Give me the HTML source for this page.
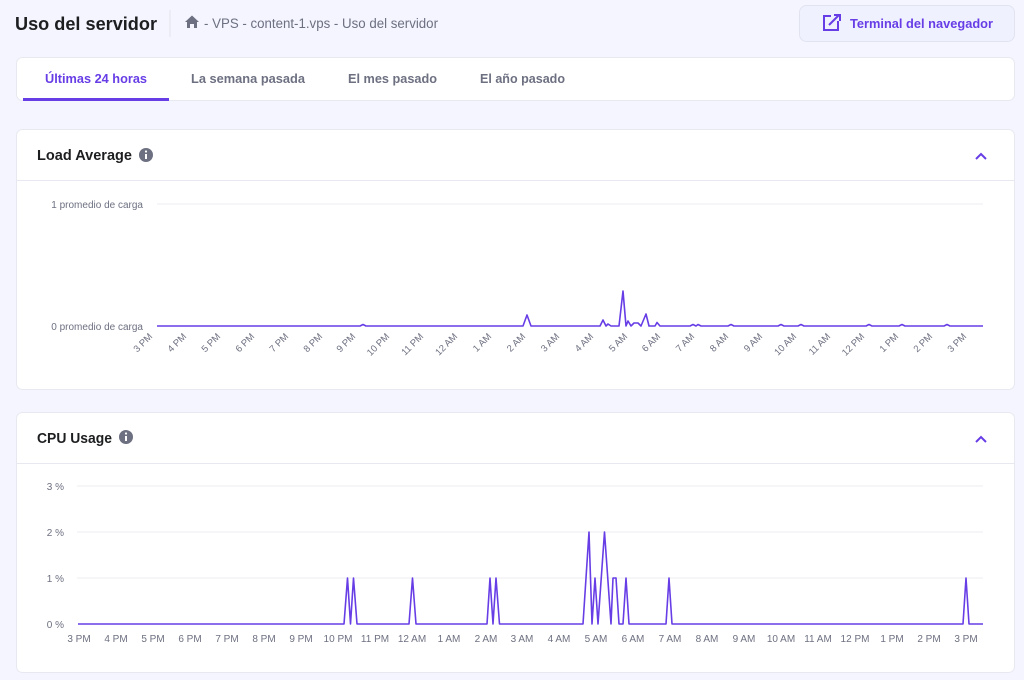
<!DOCTYPE html>
<html><head><meta charset="utf-8"><style>
body{margin:0;background:#f4f5ff;font-family:"Liberation Sans",sans-serif;}
svg{display:block}
</style></head><body>
<svg width="1024" height="680" viewBox="0 0 1024 680" xmlns="http://www.w3.org/2000/svg" font-family="Liberation Sans, sans-serif">
<rect width="1024" height="680" fill="#f4f5ff"/>
<text x="15" y="30" font-size="18" font-weight="bold" fill="#1d1e20" textLength="142" lengthAdjust="spacingAndGlyphs">Uso del servidor</text>
<line x1="170" y1="10" x2="170" y2="37" stroke="#e3e4ea"/>
<path d="M185 22 L192 15.5 L199 22 L197 22 L197 28 L194 28 L194 24 L190 24 L190 28 L187 28 L187 22 Z" fill="#6d7081"/>
<text x="204" y="28" font-size="13.5" fill="#6d7081" textLength="234" lengthAdjust="spacingAndGlyphs">- VPS - content-1.vps - Uso del servidor</text>
<rect x="799.5" y="5.5" width="215" height="36" rx="7" fill="#f0f1ff" stroke="#e1e3ef"/>
<rect x="824" y="16" width="14" height="14" fill="none" stroke="#673de6" stroke-width="2"/>
<rect x="831" y="13" width="9" height="8" fill="#f0f1ff"/>
<path d="M829 25 L839 15 M834 15 L840 15 L840 21" stroke="#673de6" stroke-width="2" fill="none"/>
<text x="850" y="28" font-size="13" font-weight="bold" fill="#673de6" textLength="143" lengthAdjust="spacingAndGlyphs">Terminal del navegador</text>

<rect x="16.5" y="57.5" width="998" height="43" rx="6" fill="#fff" stroke="#e8e9f0"/>
<text x="45" y="83" font-size="13" font-weight="bold" fill="#673de6" textLength="102" lengthAdjust="spacingAndGlyphs">Últimas 24 horas</text>
<rect x="23" y="98" width="146" height="3" fill="#673de6"/>
<text x="191" y="83" font-size="13" font-weight="bold" fill="#6d7081" textLength="114" lengthAdjust="spacingAndGlyphs">La semana pasada</text>
<text x="348" y="83" font-size="13" font-weight="bold" fill="#6d7081" textLength="89" lengthAdjust="spacingAndGlyphs">El mes pasado</text>
<text x="480" y="83" font-size="13" font-weight="bold" fill="#6d7081" textLength="85" lengthAdjust="spacingAndGlyphs">El año pasado</text>

<rect x="16.5" y="129.5" width="998" height="260" rx="6" fill="#fff" stroke="#e8e9f0"/>
<text x="37" y="160" font-size="14.5" font-weight="bold" fill="#1d1e20" textLength="95" lengthAdjust="spacingAndGlyphs">Load Average</text>
<circle cx="146" cy="155" r="7" fill="#6d7081"/><rect x="145" y="154" width="2" height="5" fill="#fff"/><circle cx="146" cy="151.5" r="1.1" fill="#fff"/>
<path d="M976 159 L981 154 L986 159" stroke="#673de6" stroke-width="2" fill="none"/>
<line x1="16" y1="180.5" x2="1015" y2="180.5" stroke="#e8e9f0"/>
<line x1="157" y1="204" x2="983" y2="204" stroke="#ececf0"/>
<text x="143" y="208" font-size="10" fill="#6d7081" text-anchor="end">1 promedio de carga</text>
<text x="143" y="330" font-size="10" fill="#6d7081" text-anchor="end">0 promedio de carga</text>
<path d="M157 326 L360 326 L363 324.5 L366 326 L523 326 L527 315 L531 326 L600 326 L603 320 L606 326 L608 324 L611 326 L619 326 L623 291 L626 326 L628 321 L631 326 L634 323 L638 323 L641 326 L646 314 L649 326 L655 326 L657 322.5 L660 326 L690 326 L693 324.5 L696 326 L698 324.5 L701 326 L728 326 L731 324.5 L734 326 L778 326 L781 324.5 L784 326 L798 326 L801 324.5 L804 326 L866 326 L869 324.5 L872 326 L899 326 L902 324.5 L905 326 L944 326 L947 324.5 L950 326 L983 326" fill="none" stroke="#673de6" stroke-width="1.6" stroke-linejoin="round"/>
<g font-size="9.5" fill="#6d7081" text-anchor="end">
<text transform="translate(153,337) rotate(-45)">3 PM</text>
<text transform="translate(187,337) rotate(-45)">4 PM</text>
<text transform="translate(221,337) rotate(-45)">5 PM</text>
<text transform="translate(255,337) rotate(-45)">6 PM</text>
<text transform="translate(289,337) rotate(-45)">7 PM</text>
<text transform="translate(323,337) rotate(-45)">8 PM</text>
<text transform="translate(356,337) rotate(-45)">9 PM</text>
<text transform="translate(390,337) rotate(-45)">10 PM</text>
<text transform="translate(424,337) rotate(-45)">11 PM</text>
<text transform="translate(458,337) rotate(-45)">12 AM</text>
<text transform="translate(492,337) rotate(-45)">1 AM</text>
<text transform="translate(526,337) rotate(-45)">2 AM</text>
<text transform="translate(560,337) rotate(-45)">3 AM</text>
<text transform="translate(594,337) rotate(-45)">4 AM</text>
<text transform="translate(628,337) rotate(-45)">5 AM</text>
<text transform="translate(661,337) rotate(-45)">6 AM</text>
<text transform="translate(695,337) rotate(-45)">7 AM</text>
<text transform="translate(729,337) rotate(-45)">8 AM</text>
<text transform="translate(763,337) rotate(-45)">9 AM</text>
<text transform="translate(797,337) rotate(-45)">10 AM</text>
<text transform="translate(831,337) rotate(-45)">11 AM</text>
<text transform="translate(865,337) rotate(-45)">12 PM</text>
<text transform="translate(899,337) rotate(-45)">1 PM</text>
<text transform="translate(933,337) rotate(-45)">2 PM</text>
<text transform="translate(967,337) rotate(-45)">3 PM</text>
</g>

<rect x="16.5" y="412.5" width="998" height="260" rx="6" fill="#fff" stroke="#e8e9f0"/>
<text x="37" y="443" font-size="14.5" font-weight="bold" fill="#1d1e20" textLength="75" lengthAdjust="spacingAndGlyphs">CPU Usage</text>
<circle cx="126" cy="437" r="7" fill="#6d7081"/><rect x="125" y="436" width="2" height="5" fill="#fff"/><circle cx="126" cy="433.5" r="1.1" fill="#fff"/>
<path d="M976 442 L981 437 L986 442" stroke="#673de6" stroke-width="2" fill="none"/>
<line x1="16" y1="463.5" x2="1015" y2="463.5" stroke="#e8e9f0"/>
<g stroke="#ececf0"><line x1="77" y1="486" x2="983" y2="486"/><line x1="77" y1="532" x2="983" y2="532"/><line x1="77" y1="578" x2="983" y2="578"/></g>
<g font-size="10" fill="#6d7081" text-anchor="end">
<text x="64" y="490">3 %</text><text x="64" y="536">2 %</text><text x="64" y="582">1 %</text><text x="64" y="628">0 %</text>
</g>
<path d="M78 624 L344 624 L347.5 578 L350.5 624 L353.5 578 L357 624 L409 624 L412.5 578 L416 624 L487 624 L490 578 L493 624 L496 578 L499.5 624 L583 624 L589 532 L592 624 L595 578 L598 624 L604.5 532 L611 624 L613 578 L616 578 L619 624 L623 624 L626 578 L629 624 L666 624 L669 578 L672 624 L963 624 L966 578 L969 624 L983 624" fill="none" stroke="#673de6" stroke-width="1.6" stroke-linejoin="round"/>
<g font-size="10" fill="#6d7081" text-anchor="middle">
<text x="79" y="642">3 PM</text><text x="116" y="642">4 PM</text><text x="153" y="642">5 PM</text><text x="190" y="642">6 PM</text><text x="227" y="642">7 PM</text><text x="264" y="642">8 PM</text><text x="301" y="642">9 PM</text><text x="338" y="642">10 PM</text><text x="375" y="642">11 PM</text><text x="412" y="642">12 AM</text><text x="449" y="642">1 AM</text><text x="486" y="642">2 AM</text><text x="522" y="642">3 AM</text><text x="559" y="642">4 AM</text><text x="596" y="642">5 AM</text><text x="633" y="642">6 AM</text><text x="670" y="642">7 AM</text><text x="707" y="642">8 AM</text><text x="744" y="642">9 AM</text><text x="781" y="642">10 AM</text><text x="818" y="642">11 AM</text><text x="855" y="642">12 PM</text><text x="892" y="642">1 PM</text><text x="929" y="642">2 PM</text><text x="966" y="642">3 PM</text>
</g>
</svg>
</body></html>
